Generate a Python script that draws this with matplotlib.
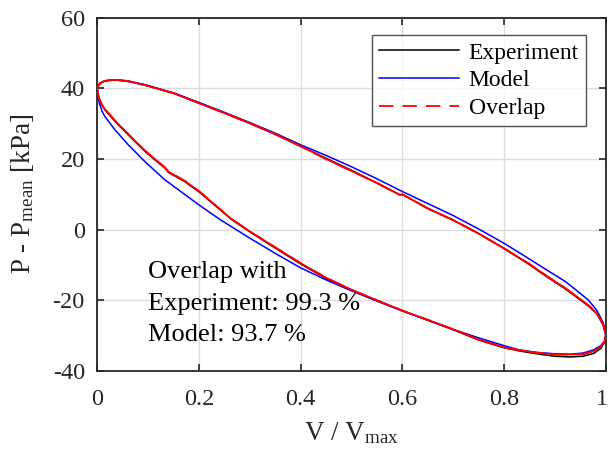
import matplotlib
matplotlib.use("Agg")
import matplotlib.pyplot as plt
import matplotlib.transforms as mtransforms

plt.rcParams['font.family'] = ['Liberation Serif', 'DejaVu Serif']
plt.rcParams['mathtext.fontset'] = 'custom'
plt.rcParams['mathtext.rm'] = 'Liberation Serif'
plt.rcParams['mathtext.it'] = 'Liberation Serif:italic'
plt.rcParams['axes.unicode_minus'] = False

# Experiment loop (upper branch 0->1, then lower branch 1->0)
exp_x = [0.0, 0.002, 0.006, 0.015, 0.035, 0.06, 0.094, 0.15, 0.2, 0.25, 0.3, 0.35, 0.4,
         0.45, 0.5, 0.55, 0.595, 0.6, 0.65, 0.7, 0.75, 0.8, 0.85, 0.884, 0.92,
         0.942, 0.965, 0.982, 0.995, 1.0,
         0.998, 0.99, 0.976, 0.955, 0.93, 0.90, 0.864, 0.83, 0.8, 0.75, 0.7,
         0.65, 0.6, 0.55, 0.5, 0.45, 0.4, 0.35, 0.3, 0.264, 0.2, 0.172, 0.14,
         0.133, 0.094, 0.061, 0.035, 0.015, 0.009, 0.004, 0.001, 0.0]
exp_y = [40.0, 40.8, 41.5, 42.1, 42.4, 42.0, 40.9, 38.6, 35.8, 33.0, 30.1, 27.0, 23.6,
         20.2, 16.8, 13.2, 9.9, 10.0, 6.0, 2.7, -1.1, -5.3, -9.9, -13.3, -16.7,
         -19.0, -21.5, -23.7, -27.0, -29.8,
         -31.8, -33.6, -35.0, -35.8, -36.0, -35.8, -35.1, -34.3, -33.4, -31.2, -28.3,
         -25.6, -22.9, -20.0, -17.0, -13.8, -9.7, -5.2, -0.6, 2.9, 10.7, 13.6, 16.2,
         17.4, 22.1, 26.8, 30.6, 33.9, 35.2, 36.8, 38.5, 40.0]

# Overlap loop (close to experiment)
ovl_x = [0.0, 0.002, 0.006, 0.015, 0.035, 0.06, 0.094, 0.15, 0.2, 0.25, 0.3, 0.35, 0.4,
         0.45, 0.5, 0.55, 0.595, 0.6, 0.65, 0.7, 0.75, 0.8, 0.85, 0.884, 0.92,
         0.942, 0.965, 0.982, 0.995, 1.0,
         0.998, 0.99, 0.976, 0.955, 0.93, 0.90, 0.864, 0.83, 0.8, 0.75, 0.7,
         0.65, 0.6, 0.55, 0.5, 0.45, 0.4, 0.35, 0.3, 0.264, 0.2, 0.172, 0.14,
         0.133, 0.094, 0.061, 0.035, 0.015, 0.009, 0.004, 0.001, 0.0]
ovl_y = [40.0, 40.8, 41.5, 42.1, 42.4, 42.0, 40.9, 38.6, 35.8, 33.0, 30.1, 27.0, 23.6,
         20.0, 16.6, 13.2, 9.8, 10.0, 6.0, 2.7, -1.1, -5.3, -9.7, -13.1, -16.5,
         -18.8, -21.3, -23.5, -26.8, -29.8,
         -31.5, -33.1, -34.4, -35.2, -35.3, -35.3, -34.8, -34.1, -33.3, -31.1, -28.2,
         -25.5, -22.9, -20.0, -17.0, -13.6, -9.5, -5.0, -0.5, 3.0, 10.9, 13.8, 16.4,
         17.6, 22.3, 27.0, 30.8, 34.1, 35.4, 37.0, 38.6, 40.0]

# Model loop
mod_x = [0.0, 0.002, 0.006, 0.015, 0.035, 0.06, 0.094, 0.15, 0.2, 0.25, 0.3, 0.35, 0.4,
         0.45, 0.5, 0.55, 0.6, 0.65, 0.7, 0.75, 0.8, 0.85, 0.884, 0.92,
         0.942, 0.965, 0.982, 0.995, 1.0,
         0.998, 0.99, 0.976, 0.955, 0.93, 0.90, 0.864, 0.83, 0.8, 0.75, 0.7,
         0.65, 0.6, 0.55, 0.5, 0.45, 0.4, 0.35, 0.3, 0.241, 0.2, 0.133, 0.094,
         0.061, 0.035, 0.015, 0.009, 0.004, 0.001, 0.0]
mod_y = [40.0, 40.8, 41.5, 42.1, 42.45, 42.1, 41.0, 38.7, 36.0, 33.2, 30.3, 27.3, 24.0,
         21.0, 17.8, 14.4, 10.8, 7.4, 4.0, 0.2, -3.85, -8.3, -11.4, -14.6,
         -17.1, -19.8, -22.7, -26.3, -30.0,
         -31.5, -32.8, -34.0, -34.9, -35.2, -35.1, -34.7, -34.0, -32.8, -30.6, -28.2,
         -25.6, -23.0, -20.2, -17.3, -14.2, -10.8, -6.7, -2.4, 2.9, 7.0, 14.1, 19.2,
         24.0, 28.2, 32.0, 33.6, 35.8, 38.2, 40.0]

x_ticks = [0, 0.2, 0.4, 0.6, 0.8, 1]
x_ticklabels = ['0', '0.2', '0.4', '0.6', '0.8', '1']
y_ticks = [-40, -20, 0, 20, 40, 60]
note_lines = ['Overlap with', 'Experiment: 99.3 %', 'Model: 93.7 %']
note_baselines = [-13.7, -22.7, -31.5]

fig = plt.figure(figsize=(6.09, 4.58), dpi=100)
ax = fig.add_axes([0.1598, 0.1897, 0.8349, 0.7719])

ax.plot(exp_x, exp_y, color='black', lw=1.1, label='Experiment', zorder=3)
ax.plot(mod_x, mod_y, color='#0000ff', lw=1.1, label='Model', zorder=4)
ax.plot(ovl_x, ovl_y, color='#ff0000', lw=1.3, ls=(0, (8, 5)), label='Overlap', zorder=5)
ax.plot(ovl_x, ovl_y, color='#ff0000', lw=1.3, zorder=5)

ax.set_xlim(0, 1)
ax.set_ylim(-40, 60)
ax.set_xticks(x_ticks)
ax.set_xticklabels(x_ticklabels)
ax.set_yticks(y_ticks)
ax.grid(True, color='#dcdcdc', lw=1.0)
ax.set_axisbelow(True)
ax.tick_params(direction='in', length=5, width=1.2, top=True, right=True,
               labelsize=17.5, pad=9, colors='#262626')
ax.tick_params(axis='x', pad=13)
for s in ax.spines.values():
    s.set_linewidth(1.3)
    s.set_color('#262626')

# nudge the last x tick label left so it stays inside the figure
last_lbl = ax.get_xticklabels()[-1]
last_lbl.set_transform(last_lbl.get_transform() +
                       mtransforms.ScaledTranslation(-4 / 100, 0, fig.dpi_scale_trans))

ax.set_xlabel(r'V / V$_{\mathrm{max}}$', fontsize=19.5, color='#262626', labelpad=7)
ax.set_ylabel(r'P - P$_{\mathrm{mean}}$ [kPa]', fontsize=19.5, color='#262626', labelpad=12)

handles, labels = ax.get_legend_handles_labels()
leg = ax.legend(handles[:3], labels[:3], loc='upper right', bbox_to_anchor=(0.961, 0.951),
                fontsize=17, frameon=True, fancybox=False, edgecolor='#262626',
                handlelength=3.4, handletextpad=0.4, labelspacing=0.27,
                borderpad=0.3, borderaxespad=0.0)
leg.get_frame().set_linewidth(1.0)

for line, yb in zip(note_lines, note_baselines):
    ax.text(0.0997, yb, line, transform=ax.get_yaxis_transform(), fontsize=19,
            va='baseline', ha='left', color='black')

fig.savefig('out.png', dpi=100)
